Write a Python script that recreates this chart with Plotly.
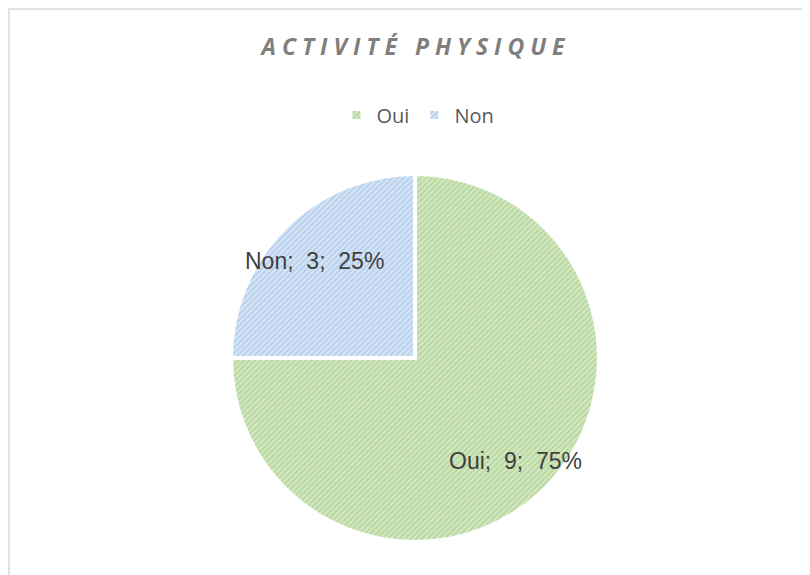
import math
import plotly.graph_objects as go

# Données
categories = ["Oui", "Non"]
valeurs = [9, 3]
titre = "ACTIVITÉ PHYSIQUE"

couleurs_fond = ["#d3e8c1", "#d6e5f6"]
couleurs_motif = ["#98c47a", "#94b6e2"]

# la page ajoute 8 px de marge autour de la figure
W, H = 802, 567
OFF = 8

# Pie : centre ~ (415, 358) dans l'image, rayon ~ 184 px
cx, cy, R = 415 - OFF, 358 - OFF, 184

trace = go.Pie(
    labels=categories,
    values=valeurs,
    sort=False,
    direction="clockwise",
    rotation=0,
    textinfo="none",
    marker=dict(
        colors=couleurs_fond,
        line=dict(color="white", width=4),
        pattern=dict(shape="/", fgcolor=couleurs_motif, bgcolor=couleurs_fond,
                     size=4, solidity=0.45, fillmode="overlay"),
    ),
    domain=dict(x=[(cx - R) / W, (cx + R) / W], y=[(H - cy - R) / H, (H - cy + R) / H]),
    hovertemplate="%{label}: %{value} (%{percent})<extra></extra>",
)

fig = go.Figure(data=[trace])

# étiquettes de données (catégorie; valeur; pourcentage) placées à 0.77 R
total = sum(valeurs)
debut = 90.0
for lab, v in zip(categories, valeurs):
    balayage = 360.0 * v / total
    milieu = math.radians(debut - balayage / 2)
    debut -= balayage
    x = cx + 0.77 * R * math.cos(milieu)
    y = cy - 0.77 * R * math.sin(milieu) + 3
    fig.add_annotation(
        x=x / W, y=1 - y / H, xref="paper", yref="paper",
        text=f"{lab};  {v};  {round(100 * v / total)}%", showarrow=False,
        xanchor="center", yanchor="middle",
        font=dict(family="Liberation Sans, Arial, sans-serif", size=23, color="#404040"),
    )

# titre espacé (lettres)
titre_espace = " ".join(titre).replace("   ", "\u00a0\u00a0\u00a0")

fig.update_layout(
    width=W, height=H,
    margin=dict(l=0, r=0, t=0, b=0),
    paper_bgcolor="white",
    title=dict(
        text="<b><i>" + titre_espace + "</i></b>",
        x=(413 - OFF) / W, xanchor="center", y=1 - (47 - OFF) / H, yanchor="middle",
        font=dict(family="Open Sans", size=23, color="#7f7f7f", weight=600),
    ),
    showlegend=True,
    legend=dict(
        orientation="h", x=(418 - OFF) / W, xanchor="center", y=1 - (115 - OFF) / H, yanchor="middle",
        font=dict(family="Open Sans, Noto Sans, sans-serif", size=20, color="#595959"),
        itemwidth=30, traceorder="normal",
    ),
    shapes=[dict(type="rect", xref="paper", yref="paper",
                 x0=1 / W, x1=1.02, y0=-0.02, y1=1 - 1 / H,
                 line=dict(color="#d9d9d9", width=1.5))],
)

fig.write_html("out.html")
